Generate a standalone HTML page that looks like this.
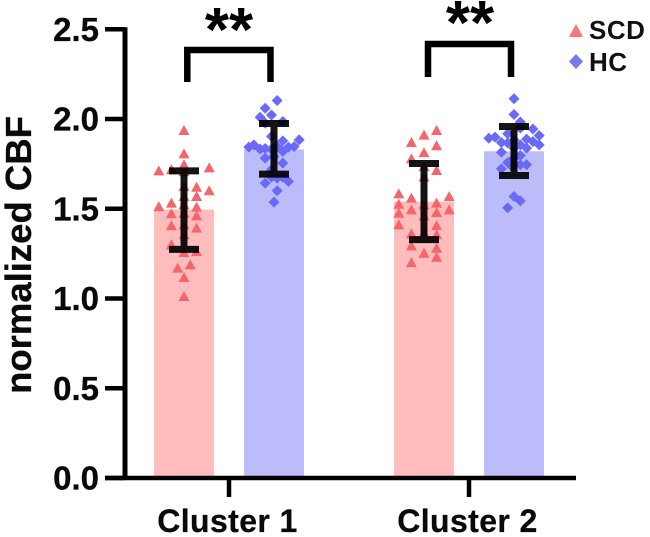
<!DOCTYPE html>
<html>
<head>
<meta charset="utf-8">
<style>
html,body{margin:0;padding:0;background:#fff;}
svg{display:block;font-family:"Liberation Sans",Arial,sans-serif;}
</style>
</head>
<body>
<svg id="chart" width="650" height="537" viewBox="0 0 650 537" xmlns="http://www.w3.org/2000/svg">
  <text transform="translate(31,255) rotate(-90)" text-anchor="middle" font-size="36.500" font-weight="700" fill="#0a0a0a" stroke="#0a0a0a" stroke-width="0.3">normalized CBF</text>
  <g id="bars"></g>
  <g id="points"></g>
  <g id="errors"></g>
  <g id="axes"></g>
  <g>
    <path d="M187.300 82V50H270.500V82" fill="none" stroke="#000" stroke-width="6.500"/>
    <text x="229" y="51" text-anchor="middle" font-size="62" font-weight="700" fill="#000">**</text>
  </g>
  <g>
    <path d="M428 77V44H511V77" fill="none" stroke="#000" stroke-width="6.500"/>
    <text x="470" y="44" text-anchor="middle" font-size="62" font-weight="700" fill="#000">**</text>
  </g>
  <g>
    <path d="M576 24L583 37H569Z" fill="#f7757b"/>
    <text x="589" y="39" font-size="26" font-weight="700" letter-spacing="0.500" fill="#111">SCD</text>
    <path d="M576 54L583 61.500L576 69L569 61.500Z" fill="#7878f0"/>
    <text x="589" y="71" font-size="26" font-weight="700" letter-spacing="0.500" fill="#111">HC</text>
  </g>
</svg>
<script>
const yTickLabels = ["0.0", "0.5", "1.0", "1.5", "2.0", "2.5"];
const categories = ["Cluster 1", "Cluster 2"];
const seriesNames = ["SCD", "HC"];
const scdMeans = [1.495, 1.54];
const hcMeans = [1.83, 1.82];
const scdUpper = [1.711, 1.752];
const scdLower = [1.274, 1.328];
const hcUpper = [1.975, 1.958];
const hcLower = [1.693, 1.685];
const scdCluster1Values = [1.936,1.806,1.745,1.711,1.717,1.728,1.707,1.62,1.60,1.624,1.568,1.512,1.531,1.568,1.509,1.472,1.475,1.46,1.522,1.405,1.392,1.41,1.355,1.299,1.256,1.261,1.187,1.169,1.117,1.011];
const scdCluster1Slots = [0,0,0,-4,-2,4,0,2,4,0,2,-4,-2,0,2,-2,0,2,0,-2,2,0,0,-2,0,2,1,-1,0,0];
const hcCluster1Values = [2.103,2.06,2.022,2.01,1.986,1.977,1.884,1.856,1.843,1.832,1.836,1.878,1.903,1.847,1.843,1.819,1.847,1.832,1.782,1.754,1.791,1.717,1.67,1.676,1.652,1.643,1.6,1.537,1.676];
const hcCluster1Slots = [0.5,-1.4,-0.4,-2.2,1.4,-1.4,4,-3.2,-4,-2.2,-1.4,1.4,-0.4,3.2,2.3,1.4,0.5,-0.4,-1.4,1.4,0,-0.4,0.5,-0.4,2.3,-1.4,0.5,0,1.4];
const scdCluster2Values = [1.936,1.91,1.869,1.851,1.813,1.778,1.735,1.713,1.676,1.583,1.568,1.559,1.525,1.531,1.522,1.494,1.494,1.475,1.479,1.46,1.41,1.406,1.36,1.364,1.355,1.293,1.28,1.252,1.23,1.2];
const scdCluster2Slots = [2,0,-2,2,0,-2,0,2,0,-4,4,-2,-4,2,0,-2,4,-4,2,0,-4,2,-2,0,2,-2,2,0,2,-2];
const hcCluster2Values = [2.113,2.025,1.983,1.944,1.908,1.893,1.899,1.918,1.869,1.866,1.888,1.875,1.856,1.856,1.838,1.884,1.815,1.797,1.782,1.758,1.745,1.745,1.722,1.739,1.568,1.544,1.505,1.949,1.838];
const hcCluster2Slots = [0,0,1,3,4,-4,-3,-1,-2,-1,2,3,4,1,2,0,-2,1,0,-1,2,1,-2,-0.4,0,1,-1,1,0];

const NS = "http://www.w3.org/2000/svg";
const yScale = function (v) { return 478 - v * 179.5; };
const groupX = function (i) { return 229 + 240 * i; };
const seriesX = function (i, s) { return groupX(i) + (s === 0 ? -45 : 45); };
const SLOT = 6.3;
const BAR_W = 60;
const CAP_W = 30;
const seriesMeans = [scdMeans, hcMeans];
const seriesUpper = [scdUpper, hcUpper];
const seriesLower = [scdLower, hcLower];
const seriesPoints = [
  [[scdCluster1Values, scdCluster1Slots], [scdCluster2Values, scdCluster2Slots]],
  [[hcCluster1Values, hcCluster1Slots], [hcCluster2Values, hcCluster2Slots]]
];
const barFills = ["#ffbcbc", "#bcbcfb"];
const pointFills = ["#f6646c", "#6a6af8"];

function make(tag, attrs, parent) {
  const el = document.createElementNS(NS, tag);
  Object.keys(attrs).forEach(function (k) { el.setAttribute(k, attrs[k]); });
  parent.appendChild(el);
  return el;
}

const barsG = document.getElementById("bars");
const pointsG = document.getElementById("points");
const errorsG = document.getElementById("errors");
const axesG = document.getElementById("axes");

categories.forEach(function (cat, i) {
  seriesNames.forEach(function (name, s) {
    const cx = seriesX(i, s);
    const bar = make("rect", { x: cx - BAR_W / 2, y: yScale(seriesMeans[s][i]), width: BAR_W, height: yScale(0) - yScale(seriesMeans[s][i]), fill: barFills[s] }, barsG);
    
    

    const vals = seriesPoints[s][i][0];
    const slots = seriesPoints[s][i][1];
    vals.forEach(function (v, k) {
      const px = cx + slots[k] * SLOT;
      const py = yScale(v);
      const d = s === 0
        ? "M" + px + " " + (py - 5.5) + "L" + (px + 5.5) + " " + (py + 4.5) + "L" + (px - 5.5) + " " + (py + 4.5) + "Z"
        : "M" + px + " " + (py - 5.5) + "L" + (px + 5.5) + " " + py + "L" + px + " " + (py + 5.5) + "L" + (px - 5.5) + " " + py + "Z";
      const pt = make("path", { d: d, fill: pointFills[s] }, pointsG);
      
      
    });

    const yU = yScale(seriesUpper[s][i]);
    const yL = yScale(seriesLower[s][i]);
    const eb = make("path", {
      d: "M" + (cx - CAP_W / 2) + " " + yU + "H" + (cx + CAP_W / 2) + "M" + cx + " " + yU + "V" + yL + "M" + (cx - CAP_W / 2) + " " + yL + "H" + (cx + CAP_W / 2),
      fill: "none", stroke: "#000", "stroke-width": 7, opacity: 0.92
    }, errorsG);
    
    
  });

  const tick = make("line", { x1: groupX(i), x2: groupX(i), y1: yScale(0), y2: 497, stroke: "#000", "stroke-width": 4.5 }, axesG);
  
  
  const lab = make("text", { x: groupX(i) - 1.5, y: 532, "text-anchor": "middle", "font-size": 32, "font-weight": 700, "letter-spacing": 0.4, fill: "#0a0a0a", stroke: "#0a0a0a", "stroke-width": 0.3 }, axesG);
  
  
  lab.textContent = cat;
});

const yAxis = make("line", { x1: 125, x2: 125, y1: yScale(2.5) - 2, y2: yScale(0) + 2, stroke: "#000", "stroke-width": 5 }, axesG);


const xAxis = make("line", { x1: 105, x2: 576, y1: yScale(0), y2: yScale(0), stroke: "#000", "stroke-width": 4.5 }, axesG);



yTickLabels.forEach(function (t) {
  const v = parseFloat(t);
  const tk = make("line", { x1: 105, x2: 125, y1: yScale(v), y2: yScale(v), stroke: "#000", "stroke-width": 4.5 }, axesG);
  
  
  const tl = make("text", { x: 99, y: yScale(v) + 11.5, "text-anchor": "end", "font-size": 33, "font-weight": 700, fill: "#0a0a0a", stroke: "#0a0a0a", "stroke-width": 0.3 }, axesG);
  
  
  tl.textContent = t;
});
</script>
</body>
</html>
